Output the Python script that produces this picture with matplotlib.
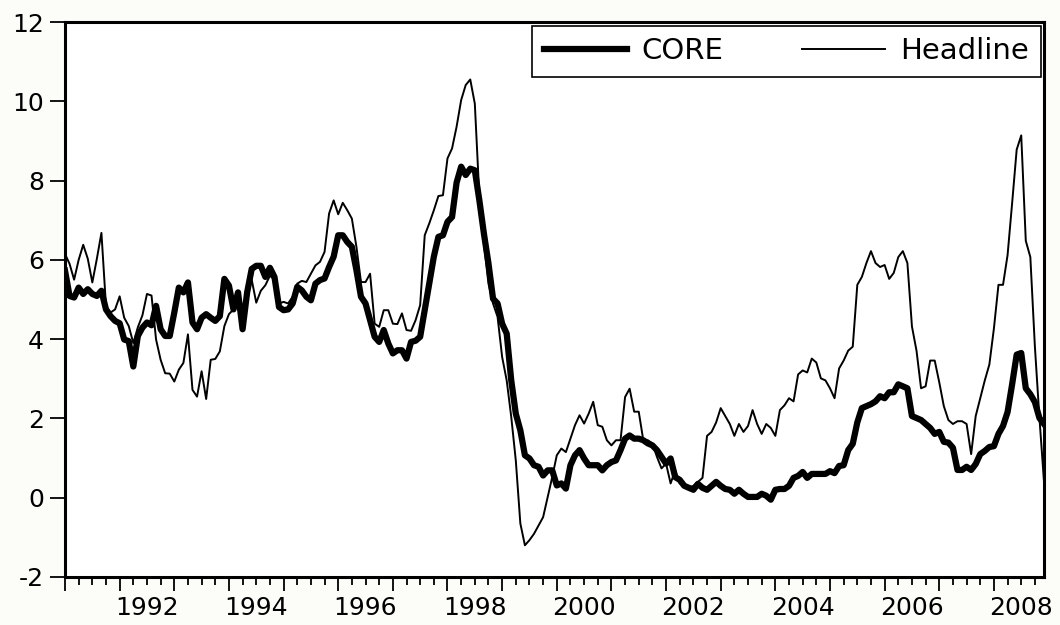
import numpy as np
import matplotlib
matplotlib.use('Agg')
import matplotlib.pyplot as plt
from matplotlib.ticker import NullLocator

plt.rcParams['axes.unicode_minus'] = False

# monthly series, 1991M01 - 2008M12 (one row per year)
start_year = 1991
core = [
    5.73, 5.09, 5.05, 5.30, 5.14, 5.26, 5.14, 5.09, 5.22, 4.75, 4.58, 4.46,  # 1991
    4.40, 3.99, 3.95, 3.31, 4.08, 4.29, 4.42, 4.35, 4.84, 4.25, 4.08, 4.08,  # 1992
    4.67, 5.30, 5.18, 5.43, 4.42, 4.25, 4.54, 4.63, 4.54, 4.46, 4.58, 5.52,  # 1993
    5.35, 4.75, 5.18, 4.25, 5.18, 5.77, 5.85, 5.85, 5.57, 5.80, 5.57, 4.81,  # 1994
    4.73, 4.75, 4.90, 5.32, 5.23, 5.07, 4.98, 5.40, 5.49, 5.53, 5.82, 6.08,  # 1995
    6.62, 6.62, 6.45, 6.33, 5.74, 5.07, 4.90, 4.48, 4.06, 3.93, 4.23, 3.89,  # 1996
    3.64, 3.72, 3.72, 3.51, 3.93, 3.96, 4.06, 4.73, 5.40, 6.08, 6.58, 6.62,  # 1997
    6.96, 7.08, 7.95, 8.35, 8.14, 8.30, 8.26, 7.50, 6.66, 5.91, 5.02, 4.90,  # 1998
    4.39, 4.14, 2.96, 2.12, 1.70, 1.07, 0.99, 0.82, 0.78, 0.56, 0.69, 0.69,  # 1999
    0.31, 0.36, 0.23, 0.82, 1.07, 1.20, 0.99, 0.82, 0.82, 0.82, 0.69, 0.82,  # 2000
    0.90, 0.94, 1.20, 1.49, 1.57, 1.49, 1.49, 1.45, 1.37, 1.32, 1.20, 1.03,  # 2001
    0.86, 0.99, 0.52, 0.45, 0.30, 0.25, 0.20, 0.35, 0.25, 0.20, 0.30, 0.40,  # 2002
    0.30, 0.22, 0.20, 0.10, 0.20, 0.10, 0.02, 0.02, 0.02, 0.10, 0.05, -0.05,  # 2003
    0.20, 0.22, 0.22, 0.30, 0.50, 0.55, 0.65, 0.50, 0.60, 0.60, 0.60, 0.60,  # 2004
    0.67, 0.62, 0.80, 0.82, 1.20, 1.36, 1.90, 2.26, 2.31, 2.36, 2.43, 2.56,  # 2005
    2.51, 2.66, 2.66, 2.86, 2.81, 2.76, 2.06, 2.01, 1.96, 1.86, 1.76, 1.61,  # 2006
    1.66, 1.41, 1.39, 1.26, 0.70, 0.70, 0.78, 0.70, 0.85, 1.10, 1.18, 1.28,  # 2007
    1.30, 1.61, 1.81, 2.16, 2.86, 3.61, 3.65, 2.76, 2.61, 2.41, 2.01, 1.86,  # 2008
]
headline = [
    6.15, 5.90, 5.50, 6.00, 6.38, 6.03, 5.43, 6.03, 6.68, 4.84, 4.67, 4.75,  # 1991
    5.08, 4.54, 4.33, 3.90, 4.30, 4.60, 5.14, 5.10, 3.99, 3.48, 3.14, 3.13,  # 1992
    2.93, 3.23, 3.40, 4.12, 2.72, 2.55, 3.19, 2.49, 3.48, 3.50, 3.69, 4.33,  # 1993
    4.63, 4.75, 4.90, 4.40, 5.10, 5.50, 4.92, 5.22, 5.36, 5.60, 5.50, 4.90,  # 1994
    4.94, 4.90, 5.07, 5.40, 5.47, 5.44, 5.65, 5.86, 5.95, 6.20, 7.17, 7.50,  # 1995
    7.15, 7.44, 7.25, 7.04, 6.33, 5.44, 5.44, 5.65, 4.39, 4.31, 4.73, 4.73,  # 1996
    4.39, 4.38, 4.65, 4.23, 4.21, 4.48, 4.86, 6.62, 6.92, 7.25, 7.61, 7.63,  # 1997
    8.56, 8.81, 9.36, 10.03, 10.41, 10.55, 9.94, 7.60, 6.40, 5.40, 4.90, 4.56,  # 1998
    3.55, 2.96, 2.04, 0.94, -0.65, -1.20, -1.07, -0.91, -0.70, -0.49, 0.02, 0.52,  # 1999
    1.07, 1.24, 1.15, 1.49, 1.83, 2.08, 1.87, 2.12, 2.42, 1.83, 1.79, 1.45,  # 2000
    1.32, 1.45, 1.45, 2.54, 2.75, 2.17, 2.17, 1.45, 1.45, 1.37, 1.03, 0.74,  # 2001
    0.86, 0.36, 0.69, 0.36, 0.30, 0.25, 0.30, 0.40, 0.50, 1.56, 1.66, 1.90,  # 2002
    2.26, 2.06, 1.86, 1.56, 1.86, 1.66, 1.81, 2.21, 1.86, 1.61, 1.86, 1.76,  # 2003
    1.56, 2.21, 2.33, 2.51, 2.43, 3.11, 3.21, 3.16, 3.51, 3.41, 3.01, 2.96,  # 2004
    2.76, 2.51, 3.26, 3.46, 3.71, 3.81, 5.37, 5.57, 5.92, 6.22, 5.92, 5.82,  # 2005
    5.87, 5.52, 5.67, 6.07, 6.22, 5.92, 4.32, 3.71, 2.76, 2.81, 3.46, 3.46,  # 2006
    2.91, 2.31, 1.96, 1.86, 1.93, 1.93, 1.86, 1.10, 2.06, 2.51, 2.96, 3.36,  # 2007
    4.27, 5.37, 5.37, 6.12, 7.43, 8.78, 9.14, 6.48, 6.07, 3.81, 2.01, 0.40,  # 2008
]
label_years = [1992, 1994, 1996, 1998, 2000, 2002, 2004, 2006, 2008]

# decimal-year position of each monthly observation
t = start_year + np.arange(len(core)) / 12.0

fig = plt.figure(figsize=(10.6, 6.25), dpi=100, facecolor='#fcfcf8')
ax = fig.add_axes([65 / 1060, 48 / 625, (1044 - 65) / 1060, (577 - 22) / 625])
ax.set_facecolor('white')

ax.plot(t, core, color='black', lw=4.5, solid_joinstyle='round', label='CORE')
ax.plot(t, headline, color='black', lw=1.4, label='Headline')

ax.set_xlim(t[0], t[-1])
ax.set_ylim(-2, 12)

for s in ax.spines.values():
    s.set_linewidth(2.2)

# y axis
ax.set_yticks(range(-2, 13, 2))
ax.tick_params(axis='y', direction='out', length=11, width=1.3, pad=4, labelsize=18)

# x axis: long ticks at each year, short ticks each quarter
ax.set_xticks(np.arange(start_year, 2009), labels=[])
ax.set_xticks(np.arange(start_year, 2009, 0.25), minor=True)
ax.tick_params(axis='x', which='major', direction='out', length=10, width=1.3)
ax.tick_params(axis='x', which='minor', direction='out', length=6, width=1.3)

# year labels centred within each year
sec = ax.secondary_xaxis('bottom')
sec.set_xticks([y + 0.5 for y in label_years], labels=[str(y) for y in label_years])
sec.xaxis.set_minor_locator(NullLocator())
sec.tick_params(axis='x', length=0, pad=13.5, labelsize=18)
sec.spines['bottom'].set_visible(False)

leg = ax.legend(loc='upper right', ncol=2, fontsize=21, frameon=True, fancybox=False,
                framealpha=1, edgecolor='black', borderpad=0.4, borderaxespad=0.12,
                handlelength=2.85, handletextpad=0.5, columnspacing=2.7)
leg.get_frame().set_linewidth(1.2)

fig.savefig('out.png', dpi=100, facecolor=fig.get_facecolor())
